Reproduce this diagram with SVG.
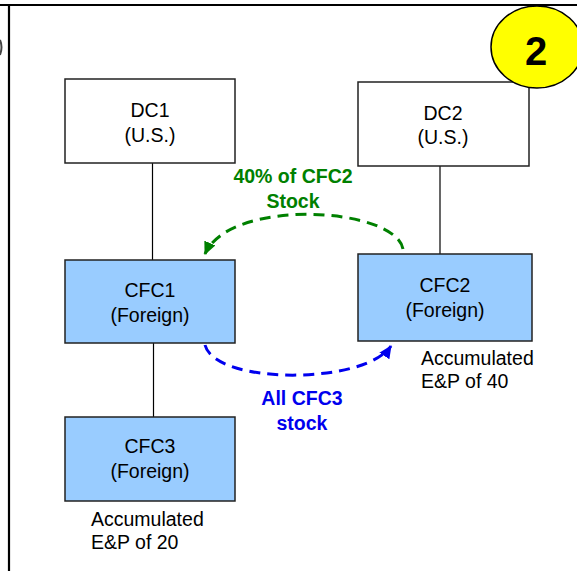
<svg xmlns="http://www.w3.org/2000/svg" width="577" height="571" viewBox="0 0 577 571">
<style>
.box{stroke:#222;stroke-width:1.5}
.w{fill:#ffffff}
.b{fill:#99ccff}
.t{font-family:"Liberation Sans",Arial,sans-serif;font-size:19.5px;fill:#000;text-anchor:middle}
.n{font-family:"Liberation Sans",Arial,sans-serif;font-size:19.5px;fill:#000}
.lbl{font-family:"Liberation Sans",Arial,sans-serif;font-size:19.5px;font-weight:bold;text-anchor:middle}
.ln{stroke:#000;stroke-width:1.2;fill:none}
</style>
<defs>
<marker id="ag" markerWidth="14" markerHeight="12" refX="12" refY="6" orient="auto" markerUnits="userSpaceOnUse"><path d="M0,0 L13,6 L0,12 Z" fill="#008000"/></marker>
<marker id="ab" markerWidth="14" markerHeight="12" refX="12" refY="6" orient="auto" markerUnits="userSpaceOnUse"><path d="M0,0 L13,6 L0,12 Z" fill="#0000ee"/></marker>
</defs>
<rect width="577" height="571" fill="#fff"/>
<g id="frame">
<line x1="0" y1="5" x2="577" y2="5" stroke="#000" stroke-width="2.2"/>
<line x1="9" y1="5" x2="9" y2="571" stroke="#000" stroke-width="2.2"/>
<path d="M0,40 Q3,47 0,55" stroke="#444" stroke-width="2" fill="none"/>
</g>
<g id="connectors">
<line class="ln" x1="152.5" y1="163" x2="152.5" y2="260"/>
<line class="ln" x1="440" y1="166" x2="440" y2="254"/>
<line class="ln" x1="153.5" y1="343" x2="153.5" y2="417"/>
<path d="M403,249 C395,207 230,197 205,254" stroke="#008000" stroke-width="3" fill="none" stroke-dasharray="11,7" marker-end="url(#ag)"/>
<path d="M205,345 C215,385 365,385 391,346" stroke="#0000ee" stroke-width="3" fill="none" stroke-dasharray="11,7" marker-end="url(#ab)"/>
<text class="lbl" fill="#008000" x="293" y="183">40% of CFC2</text>
<text class="lbl" fill="#008000" x="293" y="208">Stock</text>
<text class="lbl" fill="#0000ee" x="302" y="405">All CFC3</text>
<text class="lbl" fill="#0000ee" x="302" y="430">stock</text>
</g>
<g id="DC1">
<rect class="box w" x="65" y="79" width="170" height="84"/>
<text class="t" x="150" y="117">DC1</text>
<text class="t" x="150" y="142">(U.S.)</text>
</g>
<g id="DC2">
<rect class="box w" x="358" y="82" width="171" height="84"/>
<text class="t" x="443" y="120">DC2</text>
<text class="t" x="443" y="144">(U.S.)</text>
</g>
<g id="CFC1">
<rect class="box b" x="65" y="260" width="170" height="83"/>
<text class="t" x="150" y="297">CFC1</text>
<text class="t" x="150" y="322">(Foreign)</text>
</g>
<g id="CFC2">
<rect class="box b" x="358" y="254" width="174" height="87"/>
<text class="t" x="445" y="292">CFC2</text>
<text class="t" x="445" y="317">(Foreign)</text>
<text class="n" x="421" y="365">Accumulated</text>
<text class="n" x="421" y="388">E&amp;P of 40</text>
</g>
<g id="CFC3">
<rect class="box b" x="65" y="417" width="170" height="84"/>
<text class="t" x="150" y="453">CFC3</text>
<text class="t" x="150" y="478">(Foreign)</text>
<text class="n" x="91" y="526">Accumulated</text>
<text class="n" x="91" y="549">E&amp;P of 20</text>
</g>
<g id="badge">
<ellipse cx="537" cy="47" rx="46" ry="41" fill="#ffff00" stroke="#000" stroke-width="1.5"/>
<text x="536" y="65" font-family="'Liberation Sans',Arial,sans-serif" font-size="40" font-weight="bold" text-anchor="middle" fill="#000">2</text>
</g>
</svg>
